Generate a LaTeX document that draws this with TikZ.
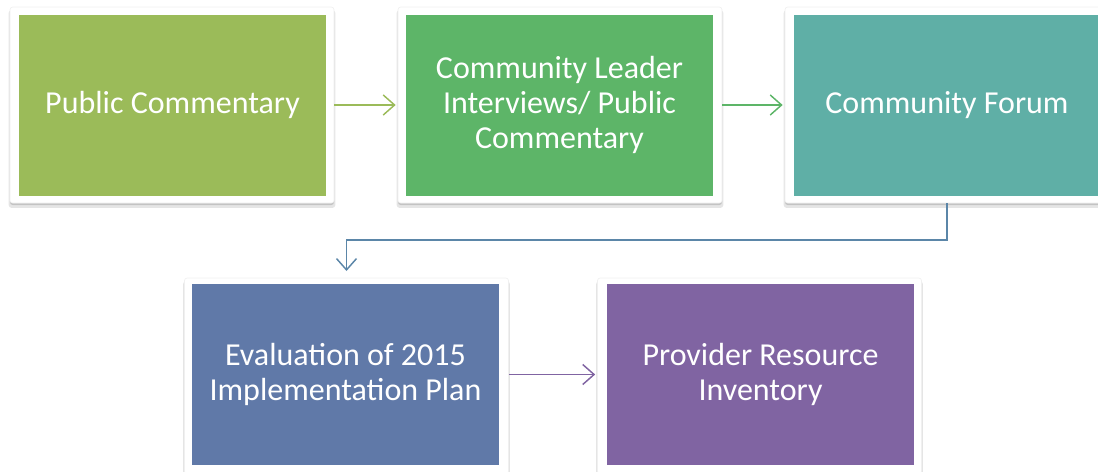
\documentclass[tikz,border=0pt]{standalone}
\usepackage{fontspec}
\setmainfont{Carlito}
\usetikzlibrary{arrows.meta,shadows}
\definecolor{cA}{HTML}{9BBB59}
\definecolor{cB}{HTML}{5DB568}
\definecolor{cC}{HTML}{5FAFA6}
\definecolor{cD}{HTML}{6079A8}
\definecolor{cE}{HTML}{8064A2}
\definecolor{cL}{HTML}{5B86A8}
\tikzset{
  frame/.style={fill=white, draw=black!6, line width=0.5pt, rounded corners=2pt,
    minimum width=324*0.75pt, minimum height=196*0.75pt, inner sep=0pt,
    drop shadow={shadow xshift=0pt, shadow yshift=-3pt, shadow scale=1.008, fill=black, opacity=0.10},
    drop shadow={shadow xshift=0pt, shadow yshift=-1.5pt, fill=black, opacity=0.15}},
  inbox/.style={minimum width=307*0.75pt, minimum height=181*0.75pt, inner sep=0pt,
    text=white, align=center, font=\fontsize{24pt}{26.6pt}\selectfont},
  conn/.style={line width=1.1pt, -{Straight Barb[length=8.5pt,width=15pt,line width=1.1pt]}, shorten >=1.5pt}
}
\begin{document}
\begin{tikzpicture}[x=0.75pt,y=-0.75pt]
\useasboundingbox (0,0) rectangle (1098,471);
% row 1
\node[frame] (f1) at (172,105) {};
\node[inbox, fill=cA] (b1) at (172.5,105) {Public Commentary};
\node[frame] (f2) at (560,105) {};
\node[inbox, fill=cB] (b2) at (559.5,105) {Community Leader\\Interviews/ Public\\Commentary};
\node[frame] (f3) at (947,105) {};
\node[inbox, fill=cC] (b3) at (947,105) {Community Forum};
% row 2
\node[frame] (f4) at (346.5,376) {};
\node[inbox, fill=cD] (b4) at (345.5,374.5) {Evaluation of 2015\\Implementation Plan};
\node[frame] (f5) at (759.5,376) {};
\node[inbox, fill=cE] (b5) at (760.5,374.5) {Provider Resource\\Inventory};
% connectors
\draw[conn, cA] (f1.east) -- (f2.west);
\draw[conn, cB] (f2.east) -- (f3.west);
\coordinate (m) at (f3.south |- 0,240);
\draw[conn, cL, shorten >=5pt] (f3.south) -- (m) -| (f4.north);
\draw[conn, cE] (f4.east |- b4.center) -- (f5.west |- b4.center);
\end{tikzpicture}
\end{document}
